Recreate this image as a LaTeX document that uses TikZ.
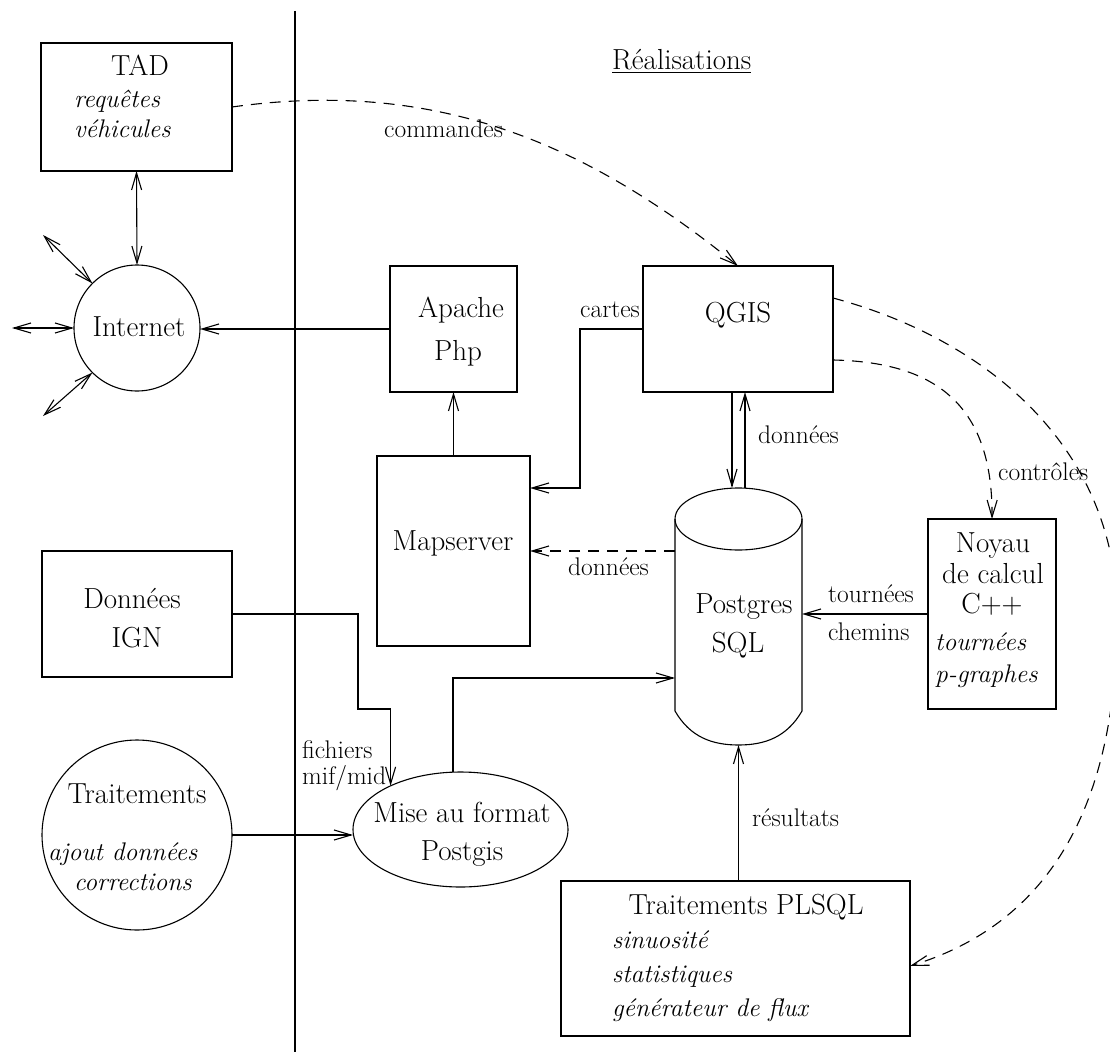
\documentclass[tikz,border=0pt]{standalone}
\usepackage{fontspec}
\usetikzlibrary{arrows.meta,shapes.geometric,calc}
\tikzset{
  shp/.style={draw, line width=1.1pt, inner sep=0pt, outer sep=0pt},
  boxn/.style={shp, rectangle},
  circn/.style={shp, circle},
  elln/.style={shp, ellipse},
  ghost/.style={rectangle, inner sep=0pt, outer sep=0pt},
  tip/.tip={Straight Barb[length=17pt,width=10pt]},
  arr/.style={line width=1.1pt, -tip},
  dbl/.style={line width=1.1pt, tip-tip},
  darr/.style={arr, dash pattern=on 11pt off 8pt},
  txt/.style={inner sep=0pt, anchor=base, font=\fontsize{29}{34}\selectfont},
  itx/.style={inner sep=0pt, anchor=base west, font=\fontsize{25.5}{30}\selectfont\itshape},
  lbl/.style={inner sep=0pt, anchor=base west, font=\fontsize{25.5}{30}\selectfont},
}
\begin{document}
\begin{tikzpicture}[x=1pt,y=-1pt]
\useasboundingbox (0,0) rectangle (1110,1054);
\clip (0,0) rectangle (1110,1054);
\fill[white] (0,0) rectangle (1110,1054);

% separator
\draw[line width=2.2pt] (295,11) -- (295,1052);

% shapes
\node[boxn, minimum width=191pt, minimum height=128pt] (tad) at (136.5,107) {};
\node[circn, minimum size=126pt] (inet) at (137,328) {};
\node[boxn, minimum width=127pt, minimum height=126pt] (apache) at (453.5,329) {};
\node[boxn, minimum width=190pt, minimum height=126pt] (qgis) at (738,329) {};
\node[boxn, minimum width=153pt, minimum height=190pt] (maps) at (453.5,551) {};
\node[boxn, minimum width=128pt, minimum height=190pt] (noyau) at (992,614) {};
\node[boxn, minimum width=190pt, minimum height=126pt] (ign) at (137,614) {};
\node[circn, minimum size=190pt] (trait) at (137,835) {};
\node[elln, minimum width=215pt, minimum height=115pt] (mise) at (460.5,829.5) {};
\node[boxn, minimum width=349pt, minimum height=155pt] (plsql) at (735.5,958.5) {};
\node[ghost, minimum width=127pt, minimum height=257pt] (pg) at (738.5,616.5) {};

% cylinder
\draw[line width=1.1pt] (738.5,519) ellipse [x radius=63.5, y radius=31];
\draw[line width=1.1pt] (675,519) -- (675,711)
  .. controls (690,737) and (712,745) .. (738.5,745)
  .. controls (765,745) and (787,737) .. (802,711) -- (802,519);

% texts
\node[txt] (tTAD) at (140,76) {TAD};
\node[itx] (tReq) at (74,108) {requêtes};
\node[itx] (tVeh) at (74,138) {véhicules};
\node[txt] (tInet) at (139,336) {Internet};
\node[txt] (tApa) at (461,317) {Apache};
\node[txt] (tPhp) at (458,360) {Php};
\node[txt] (tQgis) at (738,322) {QGIS};
\node[txt] (tMaps) at (453,550) {Mapserver};
\node[txt] (tPg1) at (744,613) {Postgres};
\node[txt] (tPg2) at (738,652) {SQL};
\node[txt] (tNo1) at (993,552) {Noyau};
\node[txt] (tNo2) at (993,583) {de calcul};
\node[txt] (tNo3) at (992,613) {C++};
\node[itx] (tNo4) at (935,650) {tournées};
\node[itx] (tNo5) at (935,682) {p-graphes};
\node[txt] (tIgn1) at (132,608) {Données};
\node[txt] (tIgn2) at (137,647) {IGN};
\node[txt] (tTr1) at (137,803) {Traitements};
\node[itx] (tTr2) at (48,860) {ajout données};
\node[itx] (tTr3) at (74,890) {corrections};
\node[txt] (tMi1) at (462,822) {Mise au format};
\node[txt] (tMi2) at (462,860) {Postgis};
\node[txt] (tPl1) at (746,914) {Traitements PLSQL};
\node[itx] (tPl2) at (612,948) {sinuosité};
\node[itx] (tPl3) at (612,982) {statistiques};
\node[itx] (tPl4) at (612,1016) {générateur de flux};
\node[txt, anchor=base west] (tReal) at (612,70) {\underline{Réalisations}};

% edge labels
\node[lbl] (lCom) at (384,138) {commandes};
\node[lbl] (lCar) at (580,317) {cartes};
\node[lbl] (lDo1) at (758,443) {données};
\node[lbl] (lDo2) at (568,575) {données};
\node[lbl] (lCtl) at (998,480) {contrôles};
\node[lbl] (lTou) at (828,602) {tournées};
\node[lbl] (lChe) at (828,640) {chemins};
\node[lbl] (lRes) at (752,826) {résultats};
\node[lbl] (lFi1) at (302,758) {fichiers};
\node[lbl] (lFi2) at (302,784) {mif/mid};

% connectors
\coordinate (o1) at (12,328);
\coordinate (o2) at (43,235);
\coordinate (o3) at (43,416);
\coordinate (bend) at (1117,617);
\draw[dbl] (tad.south) -- (inet.north);
\draw[dbl] (o1) -- (inet.west);
\draw[dbl] (o2) -- (inet.135);
\draw[dbl] (o3) -- (inet.225);
\draw[arr] (apache.west) -- (apache.west -| inet.east);
\draw[arr] (maps.north) -- (apache.south);
\draw[arr] (qgis.west) -- ++(-63,0) |- ([yshift=-32pt]maps.north east);
\draw[arr] ([xshift=-6pt]qgis.south) -- ([xshift=-6.5pt]pg.north);
\draw[arr] ([xshift=6.5pt]pg.north) -- ([xshift=7pt]qgis.south);
\draw[darr] (pg.west |- maps.east) -- (maps.east);
\draw[arr] (noyau.west) -- (noyau.west -| pg.east);
\draw[arr] (ign.east) -- ++(126,0) -- ++(0,95) -| (mise.148);
\draw[arr] (trait.east) -- (trait.east -| mise.west);
\draw[arr] ([xshift=-7.5pt]mise.north) |- ([yshift=-61.5pt]pg.west);
\draw[arr] (plsql.north -| pg.south) -- (pg.south);
\draw[darr] (tad.east) .. controls (432,79) and (583,140) .. (qgis.north);
\draw[darr] ([yshift=-31pt]qgis.east) .. controls (930,362) and (993,400) .. (noyau.north);
\draw[darr] ([yshift=31pt]qgis.east) .. controls (990,340) and (1117,450) .. (bend)
  .. controls (1117,790) and (1060,920) .. ([yshift=-7.5pt]plsql.east);
\end{tikzpicture}
\end{document}
